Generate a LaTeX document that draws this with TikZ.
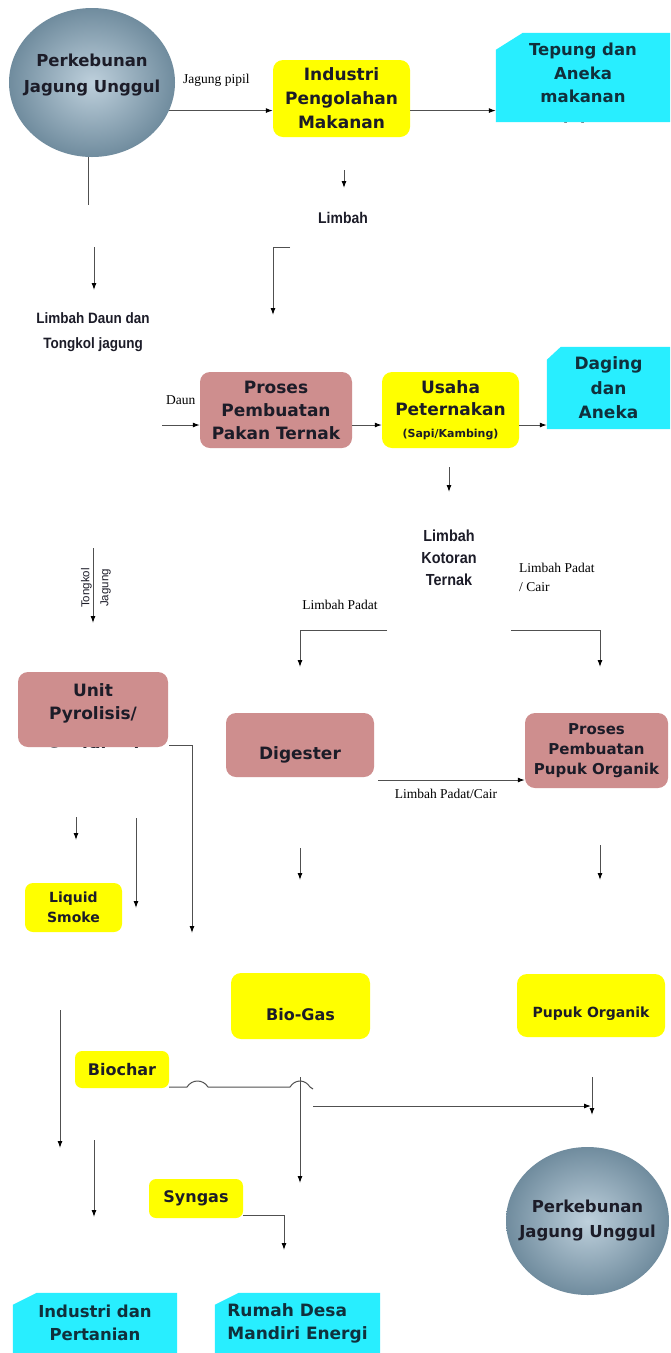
\documentclass[tikz,border=0pt]{standalone}
\usepackage{fontspec}
\setmainfont{Liberation Serif}
\newfontfamily\verd{DejaVu Sans}
\newfontfamily\arn[FakeStretch=0.9]{Liberation Sans}
\newfontfamily\ars{Liberation Sans}
\usetikzlibrary{arrows.meta,shapes.geometric,calc,backgrounds}
\definecolor{yel}{RGB}{255,255,0}
\definecolor{cyn}{RGB}{40,238,255}
\definecolor{rose}{RGB}{206,142,142}
\definecolor{txt}{RGB}{28,28,40}
\definecolor{ctxt}{RGB}{16,48,60}
\definecolor{lncol}{RGB}{80,80,80}
\definecolor{circin}{RGB}{190,208,220}
\definecolor{circout}{RGB}{112,140,158}
\newcommand\vfs[2]{\verd\bfseries\fontsize{#1}{#2}\selectfont}
\newcommand\snipfill[3]{\begin{pgfonlayer}{background}\fill[cyn] (#1.south west) -- ([yshift=-#3]#1.north west) -- ([xshift=#2]#1.north west) -- (#1.north east) -- (#1.south east) -- cycle;\end{pgfonlayer}}
\tikzset{
  arr/.style={draw=lncol, line width=1pt, -{Latex[length=7pt,width=5pt,color=black]}},
  plainline/.style={draw=lncol, line width=1pt},
  bx/.style={rounded corners=10pt, inner sep=0pt, align=center, text=txt, font=\vfs{17}{23}},
  ybox/.style={bx, fill=yel},
  rbox/.style={bx, fill=rose},
  cbox/.style={inner sep=0pt, align=center, text=ctxt, font=\vfs{16.5}{23.5}},
  lbl/.style={inner sep=0pt, align=center, text=txt},
  serif/.style={inner sep=0pt, text=black, font=\fontsize{13.5}{16}\selectfont},
  sans/.style={inner sep=0pt, align=center, text=txt, font=\arn\bfseries\fontsize{15.5}{22}\selectfont},
  circ/.style={ellipse, inner sep=0pt, inner color=circin, outer color=circout}
}
\begin{document}
\begin{tikzpicture}[x=1pt,y=-1pt]
\useasboundingbox (0,0) rectangle (670,1353);
\begin{pgfonlayer}{background}\fill[white] (0,0) rectangle (670,1353);\end{pgfonlayer}

% ---------- top row ----------
\node[circ, minimum width=166pt, minimum height=149pt,
  label={[lbl, font=\vfs{16.5}{26}, yshift=7pt]center:Perkebunan\\Jagung Unggul}] (c1) at (92,82.5) {};
\node[ybox, minimum width=137pt, minimum height=77pt, font=\vfs{17}{24}] (ind) at (341.5,98.5) {Industri\\Pengolahan\\Makanan};
\node[cbox, minimum width=174pt, minimum height=89pt] (tep) at (583,77.5) {};
\snipfill{tep}{27pt}{17pt}
\begin{scope}
  \clip (tep.north west) rectangle (tep.south east);
  \node[cbox] (tepT) at (583,89.5) {Tepung dan\\Aneka\\makanan\\[9pt]olahan};
\end{scope}
\node[serif, anchor=west] (jp) at (183,80) {Jagung pipil};
\draw[arr] (c1.-20) -- (c1.-20 -| ind.west);
\draw[arr] (ind.east |- c1.-20) -- (tep.west |- c1.-20);

\coordinate (d1) at (344,170); \coordinate (d2) at (344,188);
\draw[arr] (d1) -- (d2);
\node[sans] (limbah) at (343,218) {Limbah};
\coordinate (e1) at (290,247); \coordinate (e2) at (273,247); \coordinate (e3) at (273,315);
\draw[arr] (e1) -- (e2) -- (e3);

\coordinate (f1) at (88,157); \coordinate (f2) at (88,205);
\draw[plainline] (f1) -- (f2);
\coordinate (g1) at (94,247); \coordinate (g2) at (94,290);
\draw[arr] (g1) -- (g2);
\node[sans, font=\arn\bfseries\fontsize{15}{25}\selectfont] (ldt) at (93,332) {Limbah Daun dan\\Tongkol jagung};

% ---------- second row ----------
\node[serif, anchor=west] (daun) at (166,400) {Daun};
\node[rbox, minimum width=152pt, minimum height=76pt] (pro) at (276,410) {Proses\\Pembuatan\\Pakan Ternak};
\node[ybox, minimum width=137pt, minimum height=76pt, font=\vfs{17}{22}] (usa) at (450.5,410) {Usaha\\Peternakan\\{\fontsize{11}{13}\selectfont(Sapi/Kambing)}};
\node[cbox, minimum width=123pt, minimum height=82pt, font=\vfs{17}{24.5}] (dag) at (608.5,388) {Daging\\dan\\Aneka};
\snipfill{dag}{14pt}{13pt}
\coordinate (j1) at (162,425);
\draw[arr] (j1) -- (j1 -| pro.west);
\draw[arr] (pro.east |- j1) -- (usa.west |- j1);
\draw[arr] (usa.east |- j1) -- (dag.west |- j1);

\coordinate (m1) at (449,467); \coordinate (m2) at (449,492);
\draw[arr] (m1) -- (m2);
\node[sans, font=\arn\bfseries\fontsize{16}{22}\selectfont] (lkt) at (449,558) {Limbah\\Kotoran\\Ternak};
\node[serif, anchor=west, align=left, font=\fontsize{13.5}{19}\selectfont] (lpc) at (519,577.5) {Limbah Padat\\/ Cair};
\node[serif] (lp) at (340,605) {Limbah Padat};
\coordinate (q1) at (387,630); \coordinate (q2) at (300,630); \coordinate (q3) at (300,667);
\draw[arr] (q1) -- (q2) -- (q3);
\coordinate (r1) at (511,630); \coordinate (r2) at (600,630); \coordinate (r3) at (600,667);
\draw[arr] (r1) -- (r2) -- (r3);

\coordinate (s1) at (93,548); \coordinate (s2) at (93,623);
\draw[arr] (s1) -- (s2);
\node[inner sep=0pt, align=center, rotate=90, text=txt, font=\ars\fontsize{11.5}{19}\selectfont] (tj) at (96,588) {Tongkol\\Jagung};

% ---------- third row ----------
\node[rbox, minimum width=150pt, minimum height=75pt] (unit) at (93,709.5) {};
\begin{scope}
  \clip (unit.north west) rectangle (unit.south east);
  \node[lbl, font=\vfs{17}{23}] (unitT) at (93,722) {Unit\\Pyrolisis/\\[18pt]Gasifikasi};
\end{scope}
\coordinate (u1) at (169,745); \coordinate (u2) at (192,745); \coordinate (u3) at (192,933);
\draw[arr] (u1) -- (u2) -- (u3);
\coordinate (v1) at (76,817); \coordinate (v2) at (76,840);
\draw[arr] (v1) -- (v2);
\coordinate (w1) at (136,818); \coordinate (w2) at (136,908);
\draw[arr] (w1) -- (w2);
\node[ybox, rounded corners=8pt, minimum width=97pt, minimum height=49pt, font=\vfs{14}{20}] (liq) at (73.5,907.5) {Liquid\\Smoke};

\node[rbox, minimum width=148pt, minimum height=64pt,
  label={[lbl, font=\vfs{17}{23}, yshift=-10pt]center:Digester}] (dig) at (300,745) {};
\node[rbox, minimum width=143pt, minimum height=75pt, font=\vfs{15}{20}] (pp) at (596.5,750.5) {Proses\\Pembuatan\\Pupuk Organik};
\coordinate (z1) at (378,780);
\draw[arr] (z1) -- (z1 -| pp.west);
\node[serif] (lpc2) at (446,794) {Limbah Padat/Cair};
\coordinate (aa1) at (300,848); \coordinate (aa2) at (300,880);
\draw[arr] (aa1) -- (aa2);
\coordinate (bb1) at (600,845); \coordinate (bb2) at (600,880);
\draw[arr] (bb1) -- (bb2);

% ---------- fourth row ----------
\node[ybox, minimum width=139pt, minimum height=66pt,
  label={[lbl, font=\vfs{16}{22}, yshift=-9pt]center:Bio-Gas}] (bio) at (300.5,1006) {};
\node[ybox, minimum width=148pt, minimum height=63pt,
  label={[lbl, font=\vfs{14}{20}, yshift=-8pt]center:Pupuk Organik}] (po) at (591,1005.5) {};
\coordinate (dd1) at (60,1010); \coordinate (dd2) at (60,1148);
\draw[arr] (dd1) -- (dd2);
\node[ybox, rounded corners=7pt, minimum width=94pt, minimum height=37pt, font=\vfs{16}{22}] (bch) at (122,1069.5) {Biochar};

\coordinate (h0) at (bch.east |- 0,1087);
\coordinate (h1) at (187,1087); \coordinate (h2) at (208,1087);
\coordinate (h3) at (290,1087); \coordinate (h4) at (310,1087); \coordinate (h5) at (313,1089);
\draw[plainline] (h0) -- (h1) .. controls (192,1079) and (203,1079) .. (h2) -- (h3) .. controls (295,1079) and (305,1079) .. (h4) -- (h5);
\coordinate (gg1) at (313,1106); \coordinate (gg2) at (591,1106);
\draw[arr] (gg1) -- (gg2);
\coordinate (hh1) at (592,1077); \coordinate (hh2) at (592,1115);
\draw[arr] (hh1) -- (hh2);
\coordinate (ii1) at (300,1077); \coordinate (ii2) at (300,1183);
\draw[arr] (ii1) -- (ii2);
\coordinate (jj1) at (94,1140); \coordinate (jj2) at (94,1217);
\draw[arr] (jj1) -- (jj2);

\node[ybox, rounded corners=7pt, minimum width=94pt, minimum height=39pt, font=\vfs{16}{22}] (syn) at (196,1198.5) {Syngas};
\coordinate (k1) at (243,1215); \coordinate (k2) at (284,1215); \coordinate (k3) at (284,1250);
\draw[arr] (k1) -- (k2) -- (k3);

\node[circ, minimum width=163pt, minimum height=148pt,
  label={[lbl, font=\vfs{16.5}{25}, yshift=1pt]center:Perkebunan\\Jagung Unggul}] (c2) at (587.5,1221) {};

% ---------- bottom ----------
\node[cbox, minimum width=164pt, minimum height=60pt] (inp) at (95,1323) {Industri dan\\Pertanian};
\snipfill{inp}{24pt}{12pt}
\node[cbox, align=left, minimum width=165pt, minimum height=60pt, font=\vfs{17}{23}] (rum) at (297.5,1323) {Rumah Desa\\Mandiri Energi};
\snipfill{rum}{24pt}{12pt}
\end{tikzpicture}
\end{document}
